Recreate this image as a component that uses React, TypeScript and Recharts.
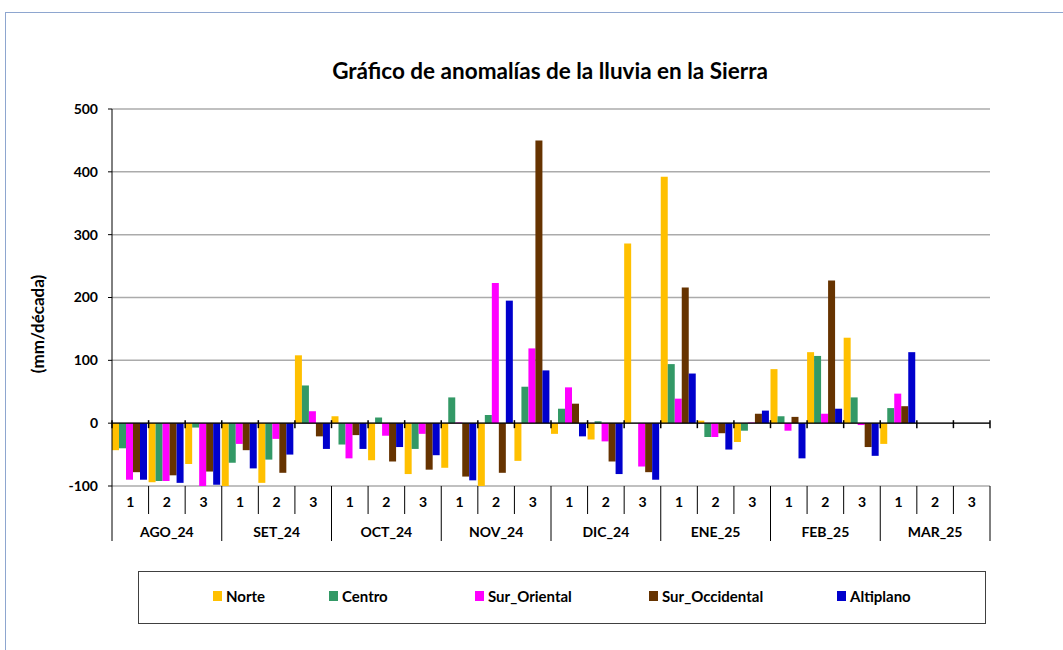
import React from "react";
import {
  BarChart,
  Bar,
  XAxis,
  YAxis,
  CartesianGrid,
  ReferenceLine,
  Legend,
} from "recharts";

const MONTHS = ["AGO_24", "SET_24", "OCT_24", "NOV_24", "DIC_24", "ENE_25", "FEB_25", "MAR_25"];
const DECADES = ["1", "2", "3"];

const NORTE = [-43, -94, -65, -100, -95, 108, 11, -59, -81, -71, -100, -60, -17, -26, 286, 392, 4, -30, 86, 113, 136, -33, null, null];
const CENTRO = [-40, -92, -7, -63, -58, 60, -34, 9, -41, 41, 13, 58, 23, 3, 0, 94, -22, -12, 11, 107, 41, 24, null, null];
const SUR_ORIENTAL = [-90, -92, -100, -33, -25, 19, -56, -20, -17, 1, 223, 119, 57, -29, -69, 39, -22, 1, -12, 15, -3, 47, null, null];
const SUR_OCCIDENTAL = [-78, -83, -77, -43, -79, -21, -19, -61, -74, -85, -79, 450, 31, -61, -78, 216, -16, 15, 10, 227, -38, 27, null, null];
const ALTIPLANO = [-90, -95, -98, -72, -50, -41, -41, -38, -51, -91, 195, 84, -21, -81, -90, 79, -42, 20, -56, 23, -52, 113, null, null];

const Y_TICKS = [-100, 0, 100, 200, 300, 400, 500];

const SERIES = [
  { key: "Norte", color: "#FFC000", legendX: 74 },
  { key: "Centro", color: "#339966", legendX: 190 },
  { key: "Sur_Oriental", color: "#FF00FF", legendX: 336 },
  { key: "Sur_Occidental", color: "#663300", legendX: 510 },
  { key: "Altiplano", color: "#0000CC", legendX: 698 },
];

const rows = MONTHS.flatMap((month, mi) =>
  DECADES.map((dec, di) => {
    const i = mi * 3 + di;
    return {
      key: `${month}-${dec}`,
      month,
      dec,
      Norte: NORTE[i],
      Centro: CENTRO[i],
      Sur_Oriental: SUR_ORIENTAL[i],
      Sur_Occidental: SUR_OCCIDENTAL[i],
      Altiplano: ALTIPLANO[i],
    };
  })
);

// layout
const W = 1063;
const H = 650;
const PLOT_LEFT = 112;
const PLOT_RIGHT = 990;
const PLOT_TOP = 109;
const PLOT_BOTTOM = 486;
const BAND = (PLOT_RIGHT - PLOT_LEFT) / rows.length;
const ZERO_Y = PLOT_TOP + (500 / 600) * (PLOT_BOTTOM - PLOT_TOP);

function TableTick(props: any) {
  const { x, index } = props;
  const row = rows[index];
  if (!row) return null;
  const right = x + BAND / 2;
  const left = x - BAND / 2;
  const monthEnd = index % 3 === 2;
  return (
    <g>
      {index === 0 && (
        <>
          <line x1={left} x2={left} y1={PLOT_BOTTOM} y2={541} stroke="#000" />
          <line x1={left} x2={left} y1={ZERO_Y - 3} y2={ZERO_Y + 5} stroke="#000" strokeWidth={1.5} />
        </>
      )}
      <line x1={right} x2={right} y1={PLOT_BOTTOM} y2={monthEnd ? 541 : 514} stroke="#000" />
      <line x1={right} x2={right} y1={ZERO_Y - 3} y2={ZERO_Y + 5} stroke="#000" strokeWidth={1.5} />
      <text x={x} y={507} textAnchor="middle" fontSize={14} fontWeight={700} fill="#000">
        {row.dec}
      </text>
      {index % 3 === 1 && (
        <text x={x} y={537} textAnchor="middle" fontSize={14} fontWeight={700} fill="#000">
          {row.month}
        </text>
      )}
    </g>
  );
}

function LegendBox() {
  return (
    <div style={{ position: "relative", width: "100%", height: "100%" }}>
      {SERIES.map((s) => (
        <div
          key={s.key}
          style={{
            position: "absolute",
            left: s.legendX,
            top: 15,
            display: "flex",
            alignItems: "center",
            fontSize: 15,
            fontWeight: 700,
            color: "#000",
            whiteSpace: "nowrap",
          }}
        >
          <span style={{ width: 9, height: 10, background: s.color, marginRight: 4, display: "inline-block" }} />
          {s.key}
        </div>
      ))}
    </div>
  );
}

export default function App() {
  return (
    <div
      style={{
        position: "absolute",
        left: 0,
        top: 0,
        width: W,
        height: H,
        background: "#fff",
        fontFamily: "Lato, 'Open Sans', sans-serif",
        overflow: "hidden",
      }}
    >
      <div
        style={{
          position: "absolute",
          left: 5,
          top: 12,
          width: W,
          height: H,
          borderLeft: "1.5px solid #8EA6CF",
          borderTop: "1.5px solid #8EA6CF",
        }}
      />
      <div
        style={{
          position: "absolute",
          left: 0,
          width: 1100,
          top: 57,
          textAlign: "center",
          fontSize: 22.5,
          fontWeight: 700,
          color: "#000",
        }}
      >
        Gráfico de anomalías de la lluvia en la Sierra
      </div>
      <div
        style={{
          position: "absolute",
          left: 37,
          top: 324,
          transform: "translate(-50%, -50%) rotate(-90deg)",
          fontSize: 17,
          fontWeight: 700,
          whiteSpace: "nowrap",
          color: "#000",
        }}
      >
        (mm/década)
      </div>
      <BarChart
        width={W}
        height={H}
        data={rows}
        margin={{ top: PLOT_TOP, right: W - PLOT_RIGHT, left: 60, bottom: H - PLOT_BOTTOM - 56 }}
        barCategoryGap={0}
        barGap={0}
      >
        <CartesianGrid vertical={false} stroke="#ABABAB" strokeWidth={1.5} />
        <XAxis
          dataKey="key"
          height={56}
          interval={0}
          axisLine={false}
          tickLine={false}
          tickSize={0}
          tickMargin={0}
          tick={<TableTick />}
        />
        <YAxis
          width={PLOT_LEFT - 60}
          domain={[-100, 500]}
          ticks={Y_TICKS}
          allowDataOverflow
          tickSize={4}
          tickMargin={10}
          axisLine={{ stroke: "#000" }}
          tickLine={{ stroke: "#000" }}
          tick={{ fill: "#000", fontSize: 14, fontWeight: 700 }}
        />
        <YAxis
          yAxisId="right"
          orientation="right"
          width={0}
          domain={[-100, 500]}
          ticks={Y_TICKS}
          tick={false}
          tickLine={false}
          axisLine={{ stroke: "#333", strokeWidth: 1.5 }}
        />
        <ReferenceLine y={0} stroke="#000" strokeWidth={1.2} />
        <Legend
          layout="horizontal"
          verticalAlign="middle"
          align="center"
          content={<LegendBox />}
          wrapperStyle={{
            left: 138,
            top: 571,
            width: 848,
            height: 53,
            border: "1px solid #404040",
            boxSizing: "border-box",
            background: "#fff",
          }}
        />
        {SERIES.map((s) => (
          <Bar key={s.key} dataKey={s.key} fill={s.color} isAnimationActive={false} />
        ))}
      </BarChart>
    </div>
  );
}
